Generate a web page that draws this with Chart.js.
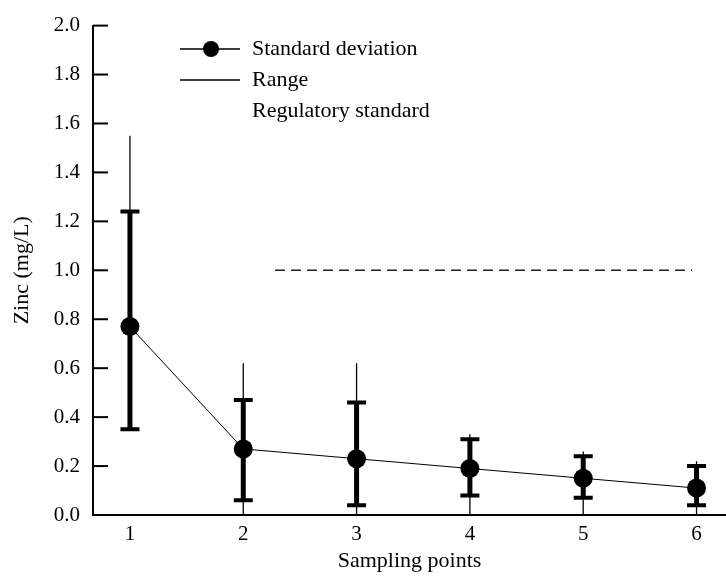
<!DOCTYPE html>
<html>
<head>
<meta charset="utf-8">
<script src="https://cdn.jsdelivr.net/npm/chart.js@4/dist/chart.umd.min.js"></script>
<style>
  html, body { margin: 0; padding: 0; background: #fff; }
  #wrap { width: 726px; height: 581px; }
</style>
</head>
<body>
<div id="wrap"><canvas id="myChart" width="726" height="581"></canvas></div>
<script>
// Datos
const samplingPoints = [1, 2, 3, 4, 5, 6];
const meanValues = [0.77, 0.27, 0.23, 0.19, 0.15, 0.11];
const sdUpper = [1.24, 0.47, 0.46, 0.31, 0.24, 0.20];
const sdLower = [0.35, 0.06, 0.04, 0.08, 0.07, 0.04];
const rangeMax = [1.55, 0.62, 0.62, 0.33, 0.26, 0.22];
const rangeMin = [0.35, 0.00, 0.00, 0.00, 0.00, 0.00];

// Linea del estandar regulatorio
const regulatoryX = [2.28, 5.96];
const regulatoryY = [1.0, 1.0];

const yTicks = [0, 0.2, 0.4, 0.6, 0.8, 1.0, 1.2, 1.4, 1.6, 1.8, 2.0];

const serif = 'Liberation Serif';
const ctx = document.getElementById('myChart');

// Barras de error: rango (fino) y desviacion estandar (grueso con topes)
const errorBars = {
    id: 'errorBars',
    beforeDatasetsDraw(chart) {
        const { ctx } = chart;
        const x = chart.scales.x;
        const y = chart.scales.y;
        ctx.save();
        ctx.strokeStyle = '#000';
        samplingPoints.forEach((p, i) => {
            const px = x.getPixelForValue(p);
            ctx.lineWidth = 1.3;
            ctx.beginPath();
            ctx.moveTo(px, y.getPixelForValue(rangeMin[i]));
            ctx.lineTo(px, y.getPixelForValue(rangeMax[i]));
            ctx.stroke();

            const top = y.getPixelForValue(sdUpper[i]);
            const bottom = y.getPixelForValue(sdLower[i]);
            ctx.lineWidth = 5;
            ctx.beginPath();
            ctx.moveTo(px, bottom);
            ctx.lineTo(px, top);
            ctx.stroke();
            ctx.lineWidth = 4;
            ctx.beginPath();
            ctx.moveTo(px - 9.5, top);
            ctx.lineTo(px + 9.5, top);
            ctx.moveTo(px - 9.5, bottom);
            ctx.lineTo(px + 9.5, bottom);
            ctx.stroke();
        });
        ctx.restore();
    }
};

// Marcas del eje y hacia adentro
const innerTicks = {
    id: 'innerTicks',
    afterDraw(chart) {
        const { ctx, chartArea } = chart;
        const y = chart.scales.y;
        ctx.save();
        ctx.strokeStyle = '#000';
        ctx.lineWidth = 2;
        yTicks.forEach(v => {
            const py = y.getPixelForValue(v);
            ctx.beginPath();
            ctx.moveTo(chartArea.left, py);
            ctx.lineTo(chartArea.left + 15, py);
            ctx.stroke();
        });
        ctx.restore();
    }
};

// Leyenda dibujada a mano
const customLegend = {
    id: 'customLegend',
    afterDraw(chart) {
        const { ctx } = chart;
        ctx.save();
        ctx.strokeStyle = '#000';
        ctx.fillStyle = '#000';
        ctx.lineWidth = 1.5;
        ctx.beginPath();
        ctx.moveTo(180, 49);
        ctx.lineTo(240, 49);
        ctx.moveTo(180, 80);
        ctx.lineTo(240, 80);
        ctx.stroke();
        ctx.beginPath();
        ctx.arc(211, 49, 8, 0, Math.PI * 2);
        ctx.fill();
        ctx.font = `22px "${serif}"`;
        ctx.textBaseline = 'middle';
        ctx.fillText('Standard deviation', 252, 49);
        ctx.fillText('Range', 252, 80);
        ctx.fillText('Regulatory standard', 252, 111);
        ctx.restore();
    }
};

const meanData = samplingPoints.map((p, i) => ({ x: p, y: meanValues[i] }));
const regulatoryData = regulatoryX.map((v, i) => ({ x: v, y: regulatoryY[i] }));

const myChart = new Chart(ctx, {
    type: 'scatter',
    data: {
        datasets: [
            {
                label: 'Standard deviation',
                data: meanData,
                showLine: true,
                borderColor: '#000',
                borderWidth: 1,
                backgroundColor: '#000',
                pointBackgroundColor: '#000',
                pointBorderColor: '#000',
                pointRadius: 9.5,
                pointBorderWidth: 0
            },
            {
                label: 'Regulatory standard',
                data: regulatoryData,
                showLine: true,
                borderColor: '#222',
                borderWidth: 1.5,
                borderDash: [10, 6],
                pointRadius: 0
            }
        ]
    },
    options: {
        responsive: false,
        animation: false,
        layout: {
            autoPadding: false,
            padding: { top: 21, right: 0, bottom: 0, left: 0 }
        },
        plugins: {
            legend: { display: false },
            tooltip: { enabled: false }
        },
        scales: {
            x: {
                type: 'linear',
                min: 0.674,
                max: 6.26,
                afterFit: scale => { scale.height = 66; },
                afterBuildTicks: scale => {
                    scale.ticks = samplingPoints.map(v => ({ value: v }));
                },
                grid: { display: false, drawTicks: false },
                border: { display: true, color: '#000', width: 2 },
                ticks: {
                    color: '#000',
                    padding: 7,
                    font: { family: serif, size: 21 },
                    callback: v => String(v)
                },
                title: {
                    display: true,
                    text: 'Sampling points',
                    color: '#000',
                    font: { family: serif, size: 22 },
                    padding: { top: 0, bottom: 7 }
                }
            },
            y: {
                min: 0,
                max: 2.0,
                afterFit: scale => { scale.width = 93; },
                afterBuildTicks: scale => {
                    scale.ticks = yTicks.map(v => ({ value: v }));
                },
                grid: { display: false, drawTicks: false },
                border: { display: true, color: '#000', width: 2 },
                ticks: {
                    color: '#000',
                    padding: 13,
                    font: { family: serif, size: 21 },
                    callback: v => v.toFixed(1)
                },
                title: {
                    display: true,
                    text: 'Zinc (mg/L)',
                    color: '#000',
                    font: { family: serif, size: 22 },
                    padding: { top: 9, bottom: 0 }
                }
            }
        }
    },
    plugins: [errorBars, innerTicks, customLegend]
});
</script>
</body>
</html>
